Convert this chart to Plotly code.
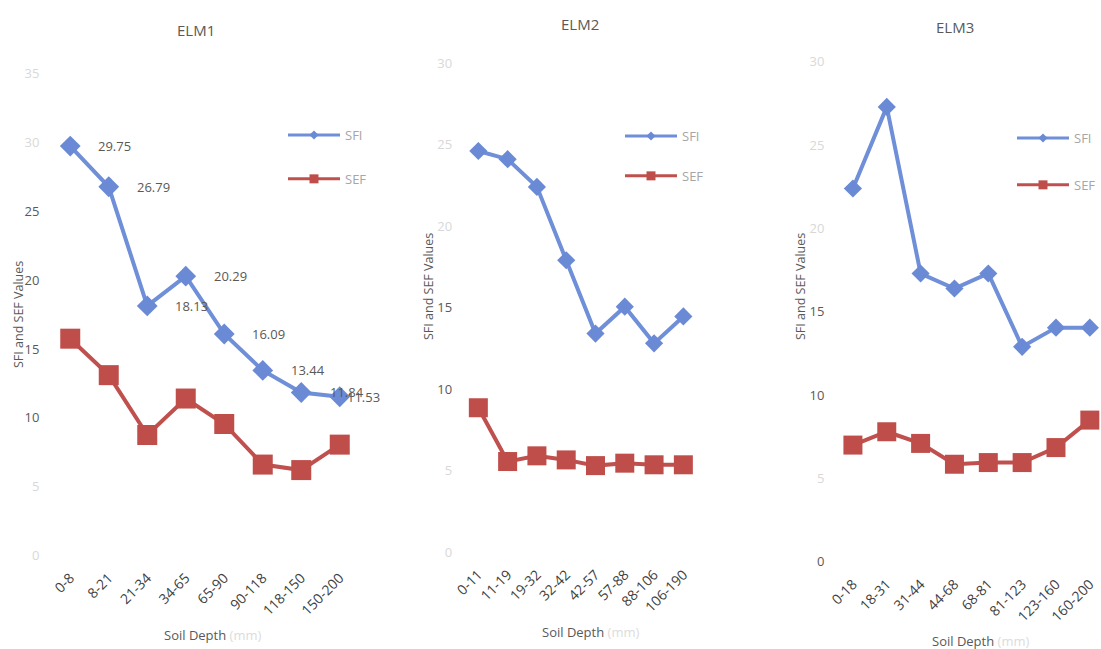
import plotly.graph_objects as go

# ---------------- data ----------------
elm1_depth = ["0-8", "8-21", "21-34", "34-65", "65-90", "90-118", "118-150", "150-200"]
elm1_sfi = [29.75, 26.79, 18.13, 20.29, 16.09, 13.44, 11.84, 11.53]
elm1_sef = [15.75, 13.1, 8.75, 11.4, 9.55, 6.6, 6.2, 8.05]

elm2_depth = ["0-11", "11-19", "19-32", "32-42", "42-57", "57-88", "88-106", "106-190"]
elm2_sfi = [24.6, 24.1, 22.4, 17.9, 13.4, 15.05, 12.8, 14.45]
elm2_sef = [8.85, 5.55, 5.9, 5.65, 5.3, 5.45, 5.35, 5.35]

elm3_depth = ["0-18", "18-31", "31-44", "44-68", "68-81", "81-123", "123-160", "160-200"]
elm3_sfi = [22.4, 27.3, 17.3, 16.4, 17.3, 12.9, 14.05, 14.05]
elm3_sef = [7.0, 7.8, 7.1, 5.85, 5.95, 5.95, 6.85, 8.5]

elm1_label_shift = [26, 26, 26, 26, 26, 26, 27, 5]

panel_titles = ["ELM1", "ELM2", "ELM3"]
y_title = "SFI and SEF Values"
x_title = "Soil Depth"
x_unit = "(mm)"

# ---------------- style ----------------
W, H = 1101, 649
BLUE = "#6f8fd8"
BLUE_M = "#6a8ad5"
RED = "#c0504d"
RED_M = "#bf4e4a"
TXT = "#595959"
TXT_X = "#404040"
FAINT = "#d8d8d8"
FONT = "Open Sans"

def px(v):
    return v / W

def py(v):
    return 1 - v / H

panels = [
    dict(depth=elm1_depth, sfi=elm1_sfi, sef=elm1_sef,
         xdom=(51, 359), ybot=555.4, ytop=73.8, ymax=35, xmax=7.5,
         strong=[10, 15, 20, 25], dsize=16, ssize=20, lw=4,
         leg=dict(x=px(283), y=py(120), xanchor="left"), gap=24, title=(196, 30),
         ytitle=(18, 315), xtitle=(212, 635)),
    dict(depth=elm2_depth, sfi=elm2_sfi, sef=elm2_sef,
         xdom=(463.7, 698), ybot=552, ytop=63, ymax=30, xmax=7.5,
         strong=[10, 15], dsize=14, ssize=19, lw=4,
         leg=dict(x=px(620), y=py(121), xanchor="left"), gap=20, title=(580, 24),
         ytitle=(428, 287), xtitle=(590, 632)),
    dict(depth=elm3_depth, sfi=elm3_sfi, sef=elm3_sef,
         xdom=(836, 1101), ybot=561.7, ytop=61.9, ymax=30, xmax=7.33,
         strong=[0, 10, 15], dsize=14, ssize=19, lw=4,
         leg=dict(x=1.0, y=py(123), xanchor="right"), gap=27, title=(955, 27),
         ytitle=(800, 287), xtitle=(980, 641)),
]

fig = go.Figure()
annotations = []

for i, p in enumerate(panels, start=1):
    sfx = "" if i == 1 else str(i)
    xa, ya = "x" + sfx, "y" + sfx
    leg = "legend" + sfx

    fig.add_trace(go.Scatter(
        x=p["depth"], y=p["sfi"], mode="lines+markers", name="SFI",
        xaxis=xa, yaxis=ya, showlegend=False,
        line=dict(color=BLUE, width=p["lw"]),
        marker=dict(symbol="diamond", size=p["dsize"], color=BLUE_M)))
    fig.add_trace(go.Scatter(
        x=p["depth"], y=p["sef"], mode="lines+markers", name="SEF",
        xaxis=xa, yaxis=ya, showlegend=False,
        line=dict(color=RED, width=p["lw"]),
        marker=dict(symbol="square", size=p["ssize"], color=RED_M)))
    # legend entries (small markers like the Excel legend)
    fig.add_trace(go.Scatter(
        x=[None], y=[None], mode="lines+markers", name="SFI",
        xaxis=xa, yaxis=ya, legend=leg, legendgroup="sfi" + sfx,
        line=dict(color=BLUE, width=3),
        marker=dict(symbol="diamond", size=7, color=BLUE_M)))
    fig.add_trace(go.Scatter(
        x=[None], y=[None], mode="lines+markers", name="SEF",
        xaxis=xa, yaxis=ya, legend=leg, legendgroup="sef" + sfx,
        line=dict(color=RED, width=3),
        marker=dict(symbol="square", size=9, color=RED_M)))

    tickvals = list(range(0, p["ymax"] + 1, 5))
    ticktext = [str(v) if v in p["strong"] else
                "<span style='color:%s'>%d</span>" % (FAINT, v) for v in tickvals]

    fig.update_layout(**{
        "xaxis" + sfx: dict(
            domain=[px(p["xdom"][0]), px(p["xdom"][1])],
            anchor=ya, type="category", range=[-0.5, p["xmax"]],
            showgrid=False, zeroline=False, showline=False, automargin=False,
            ticks="outside", ticklen=8, tickcolor="rgba(0,0,0,0)",
            tickangle=-45, tickfont=dict(family=FONT, size=14, color=TXT_X)),
        "yaxis" + sfx: dict(
            domain=[py(p["ybot"]), py(p["ytop"])],
            anchor=xa, range=[0, p["ymax"]],
            tickvals=tickvals, ticktext=ticktext, automargin=False,
            showgrid=False, zeroline=False, showline=False,
            ticks="outside", ticklen=8, tickcolor="rgba(0,0,0,0)",
            tickfont=dict(family=FONT, size=13, color=TXT)),
        leg: dict(
            yanchor="top", xref="paper", yref="paper",
            itemwidth=52, tracegroupgap=p["gap"], bgcolor="rgba(0,0,0,0)",
            borderwidth=0,
            font=dict(family=FONT, size=13, color="#a6a6a6"), **p["leg"]),
    })

    annotations.append(dict(
        text=panel_titles[i - 1], xref="paper", yref="paper",
        x=px(p["title"][0]), y=py(p["title"][1]), xanchor="center", yanchor="middle",
        showarrow=False, font=dict(family=FONT, size=15, color=TXT)))
    annotations.append(dict(
        text=y_title, xref="paper", yref="paper", textangle=-90,
        x=px(p["ytitle"][0]), y=py(p["ytitle"][1]), xanchor="center", yanchor="middle",
        showarrow=False, font=dict(family=FONT, size=12.5, color=TXT)))
    annotations.append(dict(
        text="%s <span style='color:#dcdcdc'>%s</span>" % (x_title, x_unit),
        xref="paper", yref="paper",
        x=px(p["xtitle"][0]), y=py(p["xtitle"][1]), xanchor="center", yanchor="middle",
        showarrow=False, font=dict(family=FONT, size=13, color=TXT)))

# data labels for ELM1 SFI
for cat, val, sh in zip(elm1_depth, elm1_sfi, elm1_label_shift):
    annotations.append(dict(
        text="%.2f" % val, x=cat, y=val, xref="x", yref="y",
        xanchor="left", yanchor="middle", xshift=sh, showarrow=False,
        font=dict(family=FONT, size=13, color=TXT)))

fig.update_layout(
    template="none",
    width=W, height=H,
    margin=dict(l=0, r=0, t=0, b=0, pad=0, autoexpand=False),
    paper_bgcolor="white", plot_bgcolor="white",
    annotations=annotations,
    font=dict(family=FONT, color=TXT),
)

fig.write_html("out.html", config={"displayModeBar": False},
               post_script="document.body.style.margin='0px';")
